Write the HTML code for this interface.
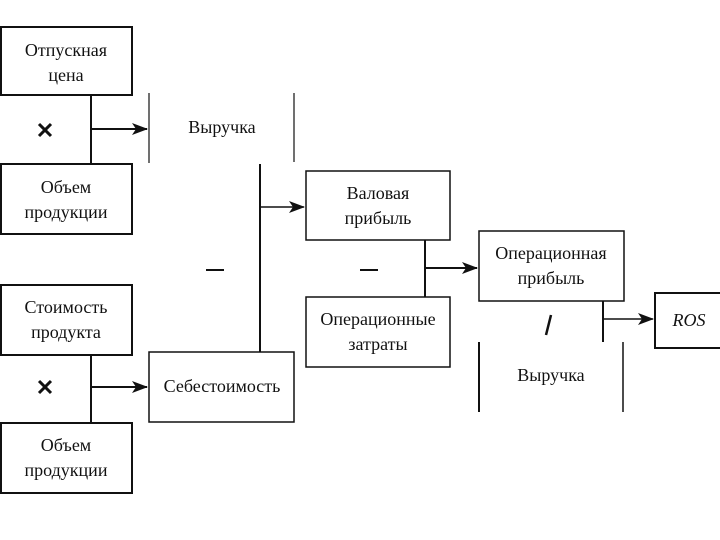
<!DOCTYPE html>
<html><head><meta charset="utf-8"><style>
html,body{margin:0;padding:0;background:#fff;}
svg{display:block;}
text{font-family:"Liberation Serif",serif;font-size:18px;fill:#111;text-anchor:middle;}
</style></head><body>
<svg width="720" height="540" viewBox="0 0 720 540" xmlns="http://www.w3.org/2000/svg">
<defs><marker id="a" markerWidth="16" markerHeight="12" refX="15" refY="6" orient="auto" markerUnits="userSpaceOnUse"><path d="M0,0 L16,6 L0,12 L4,6 Z" fill="#111"/></marker></defs>
<g fill="none" stroke="#111" stroke-width="2">
<rect x="1" y="27" width="131" height="68"/>
<rect x="1" y="164" width="131" height="70"/>
<rect x="1" y="285" width="131" height="70"/>
<rect x="1" y="423" width="131" height="70"/>
<rect x="149" y="352" width="145" height="70" stroke-width="1.5"/>
<rect x="306" y="171" width="144" height="69" stroke-width="1.5"/>
<rect x="306" y="297" width="144" height="70" stroke-width="1.5"/>
<rect x="479" y="231" width="145" height="70" stroke-width="1.5"/>
<rect x="655" y="293" width="70" height="55"/>
<line x1="91" y1="95" x2="91" y2="164"/>
<line x1="91" y1="129" x2="147" y2="129" marker-end="url(#a)"/>
<line x1="91" y1="355" x2="91" y2="423"/>
<line x1="91" y1="387" x2="147" y2="387" marker-end="url(#a)"/>
<line x1="260" y1="164" x2="260" y2="352"/>
<line x1="260" y1="207" x2="304" y2="207" stroke-width="1.5" marker-end="url(#a)"/>
<line x1="425" y1="240" x2="425" y2="297"/>
<line x1="425" y1="268" x2="477" y2="268" marker-end="url(#a)"/>
<line x1="603" y1="301" x2="603" y2="342"/>
<line x1="603" y1="319" x2="653" y2="319" stroke-width="1.5" marker-end="url(#a)"/>
<line x1="149" y1="93" x2="149" y2="163" stroke-width="1.2"/>
<line x1="294" y1="93" x2="294" y2="162" stroke-width="1.2"/>
<line x1="479" y1="342" x2="479" y2="412"/>
<line x1="623" y1="342" x2="623" y2="412" stroke-width="1.5"/>
<line x1="206" y1="270" x2="224" y2="270"/>
<line x1="360" y1="270" x2="378" y2="270"/>
<line x1="551" y1="315" x2="546" y2="335" stroke-width="2.5"/>
<path d="M39,124 L51,136 M51,124 L39,136" stroke-width="3"/>
<path d="M39,381 L51,393 M51,381 L39,393" stroke-width="3"/>
</g>
<text x="66" y="56">Отпускная</text>
<text x="66" y="81">цена</text>
<text x="66" y="193">Объем</text>
<text x="66" y="218">продукции</text>
<text x="66" y="313">Стоимость</text>
<text x="66" y="338">продукта</text>
<text x="66" y="451">Объем</text>
<text x="66" y="476">продукции</text>
<text x="222" y="133">Выручка</text>
<text x="222" y="392">Себестоимость</text>
<text x="378" y="199">Валовая</text>
<text x="378" y="224">прибыль</text>
<text x="378" y="325">Операционные</text>
<text x="378" y="350">затраты</text>
<text x="551" y="259">Операционная</text>
<text x="551" y="284">прибыль</text>
<text x="551" y="381">Выручка</text>
<text x="689" y="326" style="font-style:italic">ROS</text>
</svg>
</body></html>
